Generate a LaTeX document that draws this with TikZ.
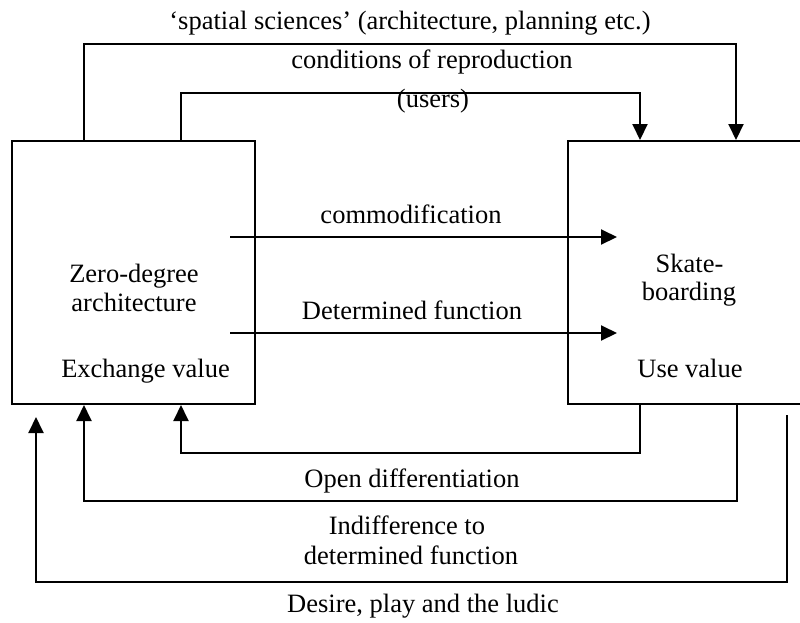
\documentclass[tikz,border=0pt]{standalone}
\usepackage{fontspec}
\setmainfont{Liberation Serif}
\usetikzlibrary{arrows.meta,calc}
\begin{document}
\begin{tikzpicture}[x=1pt,y=-1pt,
  box/.style={draw,line width=2pt,minimum height=263pt,inner sep=0pt},
  conn/.style={line width=2pt,-{Triangle[length=16pt,width=15pt]}},
  lbl/.style={anchor=base,inner sep=0pt,font=\fontsize{26.5}{29}\selectfont}]
\useasboundingbox (0,0) rectangle (800,622);
\clip (0,0) rectangle (800,622);
\fill[white] (0,0) rectangle (800,622);
% boxes
\node[box,minimum width=243pt] (zero) at (133.5,272.5) {};
\node[box,minimum width=252pt] (skate) at (694,272.5) {};
% labels
\node[lbl] (t1) at (410,29.5) {‘spatial sciences’ (architecture, planning etc.)};
\node[lbl] (t2) at (432,68) {conditions of reproduction};
\node[lbl] (t3) at (433,107) {(users)};
\node[lbl] (t4) at (411,223) {commodification};
\node[lbl] (t5) at (412,319) {Determined function};
\node[lbl] (z1) at (134,282) {Zero-degree};
\node[lbl] (z2) at (134,311) {architecture};
\node[lbl] (z3) at (145.5,377) {Exchange value};
\node[lbl] (s1) at (689.5,272) {Skate-};
\node[lbl] (s2) at (689,300) {boarding};
\node[lbl] (s3) at (690,377) {Use value};
\node[lbl] (b1) at (412,487) {Open differentiation};
\node[lbl] (b2) at (407,534) {Indifference to};
\node[lbl] (b3) at (411,564) {determined function};
\node[lbl] (b4) at (423,612) {Desire, play and the ludic};
% free ends
\coordinate (c1) at (230,237);
\coordinate (c2) at (617,237);
\coordinate (d1) at (230,333);
\coordinate (d2) at (617,333);
\coordinate (e1) at (787,415);
\coordinate (e2) at (36,417);
% top connectors
\draw[conn] ($(zero.north west)+(73,0)$) -- ++(0,-96) -| ($(skate.north west)+(169,0)$);
\draw[conn] ($(zero.north west)+(170,0)$) -- ++(0,-47) -| ($(skate.north west)+(73,0)$);
% middle connectors
\draw[conn] (c1) -- (c2);
\draw[conn] (d1) -- (d2);
% bottom connectors
\draw[conn] ($(skate.south west)+(73,0)$) -- ++(0,48) -| ($(zero.south west)+(170,0)$);
\draw[conn] ($(skate.south west)+(170,0)$) -- ++(0,96) -| ($(zero.south west)+(73,0)$);
\draw[conn] (e1) -- (787,582) -| (e2);
\end{tikzpicture}
\end{document}
